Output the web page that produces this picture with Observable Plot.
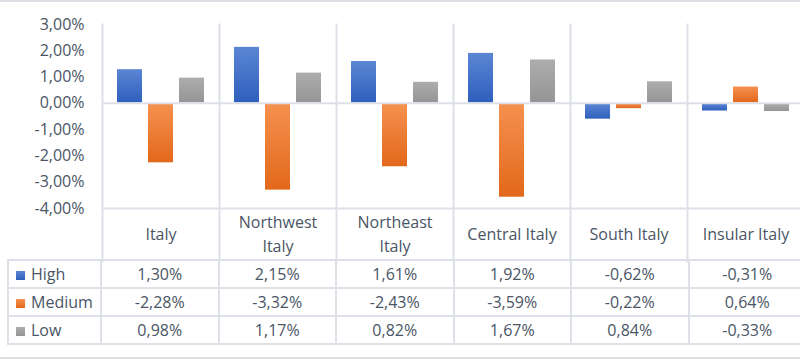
<!DOCTYPE html>
<html>
<head>
<meta charset="utf-8">
<script src="https://cdn.jsdelivr.net/npm/d3@7"></script>
<script src="https://cdn.jsdelivr.net/npm/@observablehq/plot@0.6"></script>
<style>
  html, body { margin: 0; padding: 0; background: #fff; overflow: hidden; }
  #wrap { position: relative; width: 800px; height: 361px; overflow: hidden; font-family: "Open Sans", sans-serif; color: #4a5565; }
  #chart { position: absolute; left: 0; top: 0; }
  .edge { position: absolute; left: 0; width: 800px; height: 2px; background: #dcdfe4; }
  table { position: absolute; left: 7px; top: 259px; border-collapse: collapse; table-layout: fixed; width: 798px; font-size: 16px; }
  td { border: 2px solid #dde0e7; height: 26px; padding: 0; text-align: center; white-space: nowrap; line-height: 26px; }
  td.lab { text-align: left; padding-left: 7px; }
  .key { display: inline-block; width: 9px; height: 9px; margin-right: 6px; vertical-align: 0px; }
</style>
</head>
<body>
<div id="wrap">
  <div class="edge" style="top:0"></div>
  <div id="chart"></div>
  <table id="tbl"></table>
  <div class="edge" style="top:357px"></div>
</div>
<script>
const categories = ["Italy", "Northwest Italy", "Northeast Italy", "Central Italy", "South Italy", "Insular Italy"];
const headerLabels = ["Italy", "Northwest\nItaly", "Northeast\nItaly", "Central Italy", "South Italy", "Insular Italy"];
const series = ["High", "Medium", "Low"];
const high = [1.30, 2.15, 1.61, 1.92, -0.62, -0.31];
const medium = [-2.28, -3.32, -2.43, -3.59, -0.22, 0.64];
const low = [0.98, 1.17, 0.82, 1.67, 0.84, -0.33];
const yTicks = [3, 2, 1, 0, -1, -2, -3, -4];

const gradients = {
  High: ["#5b86d4", "#2f5fbd"],
  Medium: ["#f5914f", "#e2681b"],
  Low: ["#adadad", "#959595"]
};

const valuesBySeries = { High: high, Medium: medium, Low: low };
const data = categories.flatMap((c, i) => series.map(s => ({ cat: c, series: s, value: valuesBySeries[s][i] })));

const fmt = d => d.toFixed(2).replace(".", ",") + "%";
const grid = "#dde0e7";
const ink = "#4a5565";

const plot = Plot.plot({
  width: 800,
  height: 261,
  marginTop: 24,
  marginBottom: 0,
  marginLeft: 100,
  marginRight: 0,
  style: { fontFamily: "Open Sans", fontSize: "16px", color: ink, background: "transparent", overflow: "visible" },
  fx: { domain: categories, range: [100, 805], padding: 0, axis: null, label: null },
  x: { domain: series, paddingInner: 0.1875, paddingOuter: 0.43, axis: null },
  y: { domain: [-4, 3], range: [208, 24], label: null },
  color: { domain: series, range: series.map(s => `url(#grad-${s})`) },
  marks: [
    Plot.frame({ anchor: "left", stroke: grid, strokeWidth: 2 }),
    Plot.ruleY([-4], { stroke: grid, strokeWidth: 2 }),
    Plot.barY(data, { fx: "cat", x: "series", y: "value", fill: "series", insetTop: 0.5, insetBottom: 0.5 }),
    Plot.ruleY([0], { stroke: grid, strokeWidth: 2 }),
    Plot.axisY({ ticks: yTicks, tickSize: 0, tickPadding: 18, tickFormat: fmt, fill: ink }),
    Plot.text(categories, { fx: d => d, text: (d, i) => headerLabels[i], frameAnchor: "bottom", lineAnchor: "middle", dy: -29, lineHeight: 1.45, fill: ink })
  ]
});

const svg = d3.select(plot);
const defs = svg.insert("defs", ":first-child");
for (const s of series) {
  const g = defs.append("linearGradient").attr("id", `grad-${s}`).attr("x1", 0).attr("y1", 0).attr("x2", 0).attr("y2", 1);
  g.append("stop").attr("offset", "0%").attr("stop-color", gradients[s][0]);
  g.append("stop").attr("offset", "100%").attr("stop-color", gradients[s][1]);
}
document.getElementById("chart").appendChild(plot);

// data table
const tbl = d3.select("#tbl");
const cg = tbl.append("colgroup");
cg.append("col").style("width", "93px");
categories.forEach(() => cg.append("col").style("width", "117.5px"));
series.forEach(s => {
  const tr = tbl.append("tr");
  const lab = tr.append("td").attr("class", "lab");
  lab.append("span").attr("class", "key").style("background", `linear-gradient(${gradients[s][0]}, ${gradients[s][1]})`);
  lab.append("span").text(s);
  valuesBySeries[s].forEach(v => tr.append("td").text(fmt(v)));
});
</script>
</body>
</html>
